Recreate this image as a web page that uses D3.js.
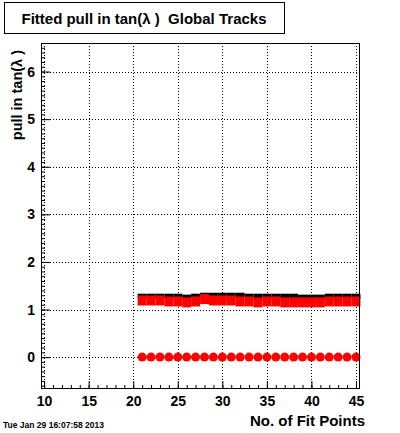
<!DOCTYPE html>
<html>
<head>
<meta charset="utf-8">
<script src="https://cdn.jsdelivr.net/npm/d3@7"></script>
<style>
  body { margin: 0; background: #fff; }
  svg text { font-family: "Liberation Sans", Arial, sans-serif; font-weight: bold; white-space: pre; }
</style>
</head>
<body>
<div id="chart"></div>
<script>
// Fitted pull in tan(lambda) vs number of fit points

const fitPoints = [21, 22, 23, 24, 25, 26, 27, 28, 29, 30, 31, 32, 33,
                   34, 35, 36, 37, 38, 39, 40, 41, 42, 43, 44, 45];
// mean of the pull (red dots)
const pullMean = [0, 0, 0, 0, 0, 0, 0, 0, 0, 0, 0, 0, 0,
                  0, 0, 0, 0, 0, 0, 0, 0, 0, 0, 0, 0];
// width of the pull, rms (black)
const pullRms = [1.28, 1.28, 1.28, 1.28, 1.28, 1.26, 1.28, 1.30, 1.30, 1.30, 1.30, 1.30, 1.28,
                 1.28, 1.28, 1.28, 1.28, 1.28, 1.26, 1.26, 1.26, 1.28, 1.28, 1.28, 1.28];
// width of the pull, gaussian fit (red band)
const pullSigma = [1.19, 1.19, 1.19, 1.17, 1.17, 1.15, 1.17, 1.22, 1.19, 1.19, 1.19, 1.17, 1.17,
                   1.15, 1.17, 1.17, 1.15, 1.15, 1.15, 1.15, 1.15, 1.17, 1.17, 1.17, 1.17];

const xTicks = [10, 15, 20, 25, 30, 35, 40, 45];
const yTicks = [0, 1, 2, 3, 4, 5, 6];

const titleText = 'Fitted pull in tan(\u03bb )  Global Tracks';
const yTitle = 'pull in tan(\u03bb )';
const xTitle = 'No. of Fit Points';
const dateText = 'Tue Jan 29 16:07:58 2013';

const width = 400;
const height = 433;
const frame = { left: 41, right: 360, top: 43, bottom: 389 };

const svg = d3.select('#chart')
  .append('svg')
  .attr('width', width)
  .attr('height', height);

const x = d3.scaleLinear().domain([9.65, 45.45]).range([frame.left, frame.right]);
const y = d3.scaleLinear().domain([-0.67, 6.6]).range([frame.bottom, frame.top]);

// dotted grid
const grid = svg.append('g').attr('class', 'grid')
  .attr('stroke', '#000')
  .attr('stroke-width', 1)
  .attr('stroke-dasharray', '1,2');

grid.selectAll('line.gx')
  .data(xTicks)
  .enter()
  .append('line')
  .attr('x1', d => Math.round(x(d)) + 0.5)
  .attr('x2', d => Math.round(x(d)) + 0.5)
  .attr('y1', frame.top)
  .attr('y2', frame.bottom);

grid.selectAll('line.gy')
  .data(yTicks)
  .enter()
  .append('line')
  .attr('y1', d => Math.round(y(d)) + 0.5)
  .attr('y2', d => Math.round(y(d)) + 0.5)
  .attr('x1', frame.left)
  .attr('x2', frame.right);

// axes (ticks point inward like ROOT)
const xMinor = d3.range(10, 46, 1);
const yMinor = d3.range(-6, 66, 1).map(d => d / 10);

const xAxisMinor = svg.append('g')
  .attr('transform', `translate(0,${frame.bottom})`)
  .call(d3.axisBottom(x).tickValues(xMinor).tickSize(-4).tickFormat(''));

const xAxis = svg.append('g')
  .attr('transform', `translate(0,${frame.bottom})`)
  .call(d3.axisBottom(x).tickValues(xTicks).tickSize(-8).tickPadding(7).tickFormat(d3.format('d')));

const yAxisMinor = svg.append('g')
  .attr('transform', `translate(${frame.left},0)`)
  .call(d3.axisLeft(y).tickValues(yMinor).tickSize(-4).tickFormat(''));

const yAxis = svg.append('g')
  .attr('transform', `translate(${frame.left},0)`)
  .call(d3.axisLeft(y).tickValues(yTicks).tickSize(-9).tickPadding(6).tickFormat(d3.format('d')));

[xAxisMinor, xAxis, yAxisMinor, yAxis].forEach(g => {
  g.select('.domain').remove();
  g.selectAll('.tick line').attr('stroke', '#000');
  g.selectAll('.tick text')
    .attr('fill', '#000')
    .attr('font-size', '14px')
    .attr('font-family', '"Liberation Sans", Arial, sans-serif')
    .attr('font-weight', 'bold');
});

// data
const binW = x(1) - x(0);
const plot = svg.append('g');

plot.selectAll('rect.rms')
  .data(fitPoints)
  .enter()
  .append('rect')
  .attr('class', 'rms')
  .attr('x', d => x(d) - binW / 2)
  .attr('width', binW)
  .attr('y', (d, i) => y(pullRms[i]) - 2.5)
  .attr('height', 5)
  .attr('fill', '#000');

plot.selectAll('rect.sigma')
  .data(fitPoints)
  .enter()
  .append('rect')
  .attr('class', 'sigma')
  .attr('x', d => x(d) - binW / 2)
  .attr('width', binW)
  .attr('y', (d, i) => y(pullSigma[i]) - 5)
  .attr('height', 10)
  .attr('fill', '#ff0000');

plot.selectAll('circle.mean')
  .data(fitPoints)
  .enter()
  .append('circle')
  .attr('class', 'mean')
  .attr('cx', d => x(d))
  .attr('cy', (d, i) => y(pullMean[i]))
  .attr('r', 4.5)
  .attr('fill', '#ff0000');

// frame
svg.append('rect')
  .attr('x', frame.left + 0.5)
  .attr('y', frame.top + 0.5)
  .attr('width', frame.right - frame.left - 1)
  .attr('height', frame.bottom - frame.top - 1)
  .attr('fill', 'none')
  .attr('stroke', '#000')
  .attr('stroke-width', 1);

// title box
svg.append('rect')
  .attr('x', 4.5)
  .attr('y', 2.5)
  .attr('width', 280)
  .attr('height', 31)
  .attr('fill', '#fff')
  .attr('stroke', '#000');

svg.append('text')
  .attr('x', 144)
  .attr('y', 24)
  .attr('text-anchor', 'middle')
  .attr('font-size', '15px')
  .text(titleText);

// axis titles
svg.append('text')
  .attr('transform', 'translate(22,50) rotate(-90)')
  .attr('text-anchor', 'end')
  .attr('font-size', '14.5px')
  .text(yTitle);

svg.append('text')
  .attr('x', 365)
  .attr('y', 426)
  .attr('text-anchor', 'end')
  .attr('font-size', '15px')
  .text(xTitle);

svg.append('text')
  .attr('x', 3)
  .attr('y', 428)
  .attr('font-size', '8.5px')
  .text(dateText);
</script>
</body>
</html>
